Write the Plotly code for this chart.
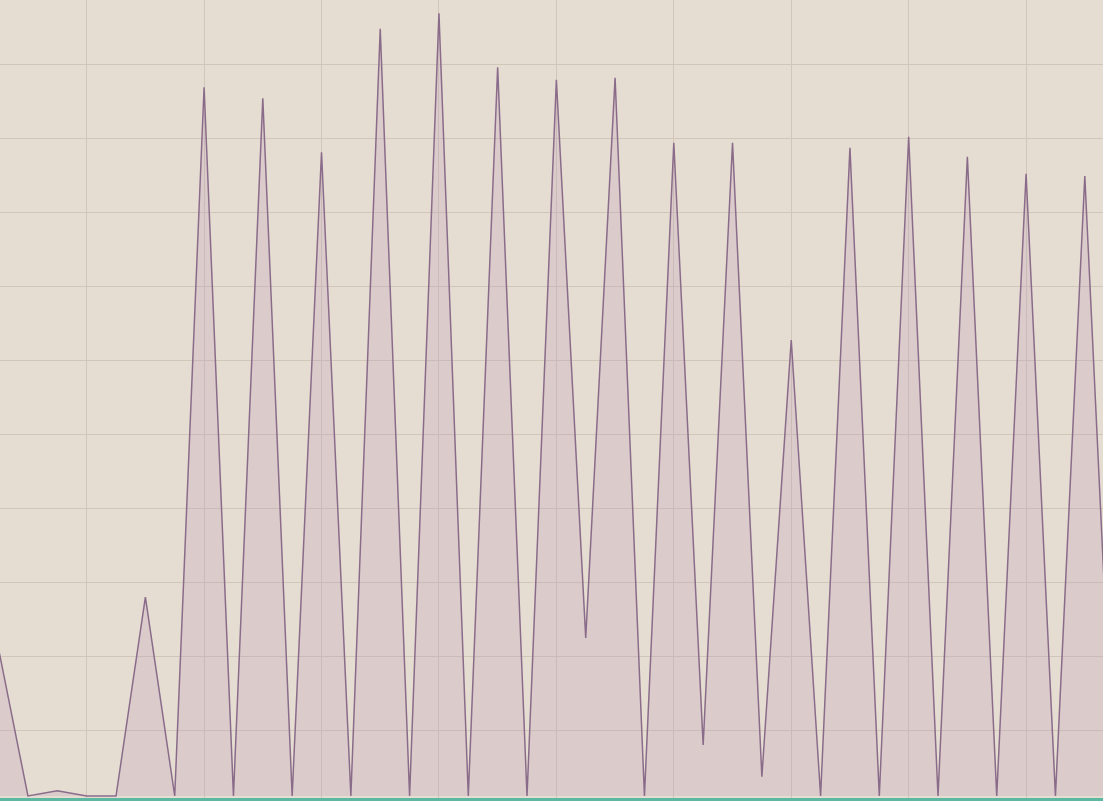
import plotly.graph_objects as go

# Sample index and series values
sample_index = list(range(39))
series_values = [
    19.9, 0.0, 0.7, 0.0, 0.0, 26.9, 0.0, 95.9, 0.0, 94.4,
    0.0, 87.1, 0.0, 103.8, 0.0, 105.9, 0.0, 98.6, 0.0, 96.9,
    21.4, 97.2, 0.0, 88.4, 6.9, 88.4, 2.6, 61.7, 0.0, 87.7,
    0.0, 89.2, 0.0, 86.5, 0.0, 84.2, 0.0, 83.9, 0.0,
]

BG = "#E6DDD2"
GRID = "#D1C6B8"
LINE = "#8A6C8A"
FILL = "rgba(190,160,185,0.27)"
AXIS = "#5DB8A2"

fig = go.Figure()
fig.add_trace(go.Scatter(
    x=sample_index,
    y=series_values,
    mode="lines",
    line=dict(color=LINE, width=1.5),
    fill="tozeroy",
    fillcolor=FILL,
    hoverinfo="skip",
    showlegend=False,
))

fig.update_layout(
    width=1103,
    height=801,
    margin=dict(l=0, r=0, t=0, b=3),
    paper_bgcolor=BG,
    plot_bgcolor=BG,
    xaxis=dict(
        range=[0.048, 37.62],
        tick0=3, dtick=4,
        showgrid=True, gridcolor=GRID, gridwidth=1,
        showticklabels=False, zeroline=False,
        showline=True, linecolor=AXIS, linewidth=3,
        ticks="",
    ),
    yaxis=dict(
        range=[-0.27, 107.71],
        tick0=8.93, dtick=10,
        showgrid=True, gridcolor=GRID, gridwidth=1,
        showticklabels=False, zeroline=False,
        ticks="",
    ),
)

fig.write_html(
    "out.html",
    config={"displayModeBar": False},
    post_script="document.body.style.margin='0';document.body.style.overflow='hidden';",
)
